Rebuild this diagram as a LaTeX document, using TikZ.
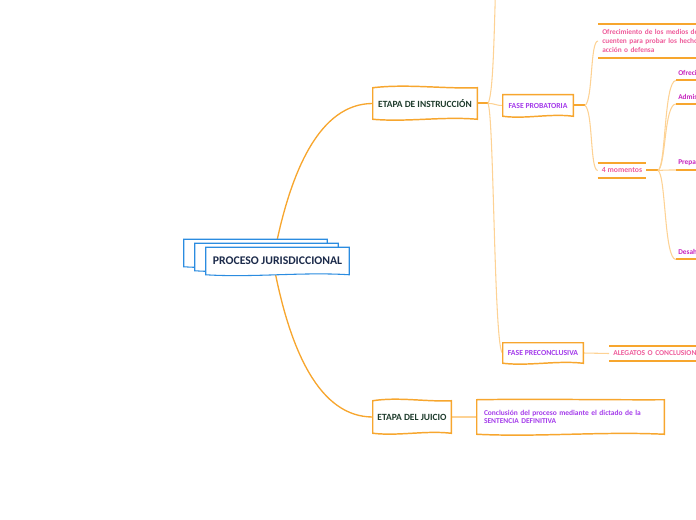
\documentclass[tikz,border=0pt]{standalone}
\usepackage{fontspec}
\setmainfont{Carlito}
\usetikzlibrary{calc}
\definecolor{org}{HTML}{F7A62E}
\definecolor{lorg}{HTML}{FDD294}
\definecolor{blu}{HTML}{2B8CE0}
\definecolor{navy}{HTML}{1B2A4A}
\definecolor{dgreen}{HTML}{1E3B2C}
\definecolor{purp}{HTML}{A43BEB}
\definecolor{pinkt}{HTML}{EE5B9A}
\definecolor{magt}{HTML}{C624BE}
\pgfdeclarelayer{bg}\pgfdeclarelayer{fills}\pgfsetlayers{bg,fills,main}
% #1 node name, #2 style, #3 offset, #4 top wave amplitude
\newcommand\wshape[4]{%
\draw[#2] ($(#1.north west)+#3$) .. controls ($(#1.north west)!0.33!(#1.north east)+(0,-#4)+#3$) and ($(#1.north west)!0.67!(#1.north east)+(0,#4*0.3)+#3$) .. ($(#1.north east)+#3$) -- ($(#1.south east)+#3$) .. controls ($(#1.south west)!0.67!(#1.south east)+(0,-3)+#3$) and ($(#1.south west)!0.33!(#1.south east)+(0,3)+#3$) .. ($(#1.south west)+#3$) -- cycle;}
\tikzset{
  box/.style={inner sep=0pt, align=center, font=\bfseries},
  obox/.style={draw=org, line width=1.1pt, fill=white},
  bbox/.style={draw=blu, line width=0.8pt, fill=white},
  mainconn/.style={draw=org, line width=1pt},
  thickconn/.style={draw=org, line width=1.5pt},
  lightconn/.style={draw=lorg, line width=0.8pt},
  rule/.style={draw=org, line width=1.5pt},
}
\begin{document}
\begin{tikzpicture}[x=0.75pt,y=-0.75pt]
\useasboundingbox (0,0) rectangle (696,520);
\clip (0,0) rectangle (696,520);
% nodes
\node[box, minimum width=107.25pt, minimum height=20.25pt, text=navy, font=\bfseries\fontsize{8.8}{10}\selectfont] (root) at (277.5,261) {PROCESO JURISDICCIONAL};
\node[box, minimum width=78pt, minimum height=23.25pt, text=dgreen, font=\bfseries\fontsize{7.1}{8}\selectfont] (instr) at (425,103.5) {ETAPA DE INSTRUCCIÓN};
\node[box, minimum width=58.5pt, minimum height=24pt, text=dgreen, font=\bfseries\fontsize{7.1}{8}\selectfont] (juicio) at (412,417) {ETAPA DEL JUICIO};
\node[box, minimum width=52.5pt, minimum height=15.75pt, text=purp, font=\bfseries\fontsize{5.8}{6.5}\selectfont] (probat) at (538,105.5) {FASE PROBATORIA};
\node[box, minimum width=60pt, minimum height=15pt, text=purp, font=\bfseries\fontsize{5.8}{6.5}\selectfont] (precon) at (543,353) {FASE PRECONCLUSIVA};
\node[box, minimum width=140.25pt, minimum height=25.5pt, inner xsep=5.25pt, text width=129.75pt, align=left, text=purp, font=\bfseries\fontsize{5.6}{6.2}\selectfont] (concl) at (570.5,417) {Conclusión del proceso mediante el dictado de la\\SENTENCIA DEFINITIVA};
\node[box, anchor=west, minimum height=25.5pt, inner xsep=3pt, text width=150pt, align=left, text=pinkt, font=\bfseries\fontsize{5.5}{6.75}\selectfont] (ofrec) at (598,41) {Ofrecimiento de los medios de\\cuenten para probar los hechos\\acción o defensa};
\node[box, minimum width=36pt, minimum height=11.25pt, text=pinkt, font=\bfseries\fontsize{5.8}{6.5}\selectfont] (mom) at (622,170.5) {4 momentos};
\node[box, anchor=west, minimum width=100pt, minimum height=11.25pt, inner xsep=3pt, text width=94pt, align=left, text=pinkt, font=\bfseries\fontsize{5.6}{6.5}\selectfont] (aleg) at (609,353.5) {ALEGATOS O CONCLUSIONES};
\tikzset{mstyle/.style={box, anchor=south west, minimum height=10.5pt, inner xsep=1.5pt, text width=57pt, align=left, text=magt, font=\bfseries\fontsize{5.5}{6.3}\selectfont}}
\node[mstyle] (m1) at (676,80.5) {Ofrecimiento};
\node[mstyle] (m2) at (676,104) {Admisión};
\node[mstyle] (m3) at (676,170) {Preparación};
\node[mstyle] (m4) at (676,259.5) {Desahogo};
\coordinate (fork1) at (488,103.5);
\coordinate (fork2) at (585,105.5);
\coordinate (fork3) at (658,170.5);
\coordinate (offtop) at (495.5,-10);
% connectors
\begin{pgfonlayer}{bg}
\draw[mainconn] ($(root.center)+(-4,-3)$) .. controls (290,170) and (320,103.5) .. (instr.west);
\draw[mainconn] ($(root.center)+(-4,3)$) .. controls (290,352) and (320,417) .. (juicio.west);
\draw[thickconn] (instr.east) -- (fork1);
\draw[lightconn] (fork1) .. controls (493,95) and (494,40) .. (offtop);
\draw[lightconn] (fork1) .. controls (496,103.5) and (495,105.5) .. (probat.west);
\draw[lightconn] (fork1) .. controls (494,115) and (494,353) .. (precon.west);
\draw[thickconn] (probat.east) -- (fork2);
\draw[lightconn] (fork2) .. controls (593,100) and (590,41) .. (ofrec.west);
\draw[lightconn] (fork2) .. controls (593,111) and (590,170.5) .. (mom.west);
\draw[thickconn] (mom.east) -- (fork3);
\draw[lightconn] (fork3) .. controls (666,166) and (664,80.5) .. (m1.south west);
\draw[lightconn] (fork3) .. controls (666,166) and (664,104) .. (m2.south west);
\draw[lightconn] (fork3) .. controls (666,170) and (668,170) .. (m3.south west);
\draw[lightconn] (fork3) .. controls (666,175) and (664,259.5) .. (m4.south west);
\draw[lightconn] (precon.east) -- (aleg.west);
\draw[lightconn] (juicio.east) -- (concl.west);
\end{pgfonlayer}
% shapes
\begin{pgfonlayer}{fills}
\wshape{root}{bbox}{(-22,-8)}{0}
\wshape{root}{bbox}{(-11,-4)}{0}
\wshape{root}{bbox}{(0,0)}{0}
\wshape{instr}{obox}{(0,0)}{4}
\wshape{juicio}{obox}{(0,0)}{4}
\wshape{probat}{obox}{(0,0)}{0}
\wshape{precon}{obox}{(0,0)}{0}
\wshape{concl}{obox}{(0,0)}{1}
\end{pgfonlayer}
\draw[rule] (ofrec.north west) -- (ofrec.north east);
\draw[rule] (ofrec.south west) -- (ofrec.south east);
\draw[rule] (mom.north west) -- (mom.north east);
\draw[rule] (mom.south west) -- (mom.south east);
\draw[rule] (aleg.north west) -- (aleg.north east);
\draw[rule] (aleg.south west) -- (aleg.south east);
\draw[rule] (m1.south west) -- (m1.south east);
\draw[rule] (m2.south west) -- (m2.south east);
\draw[rule] (m3.south west) -- (m3.south east);
\draw[rule] (m4.south west) -- (m4.south east);
\end{tikzpicture}
\end{document}
